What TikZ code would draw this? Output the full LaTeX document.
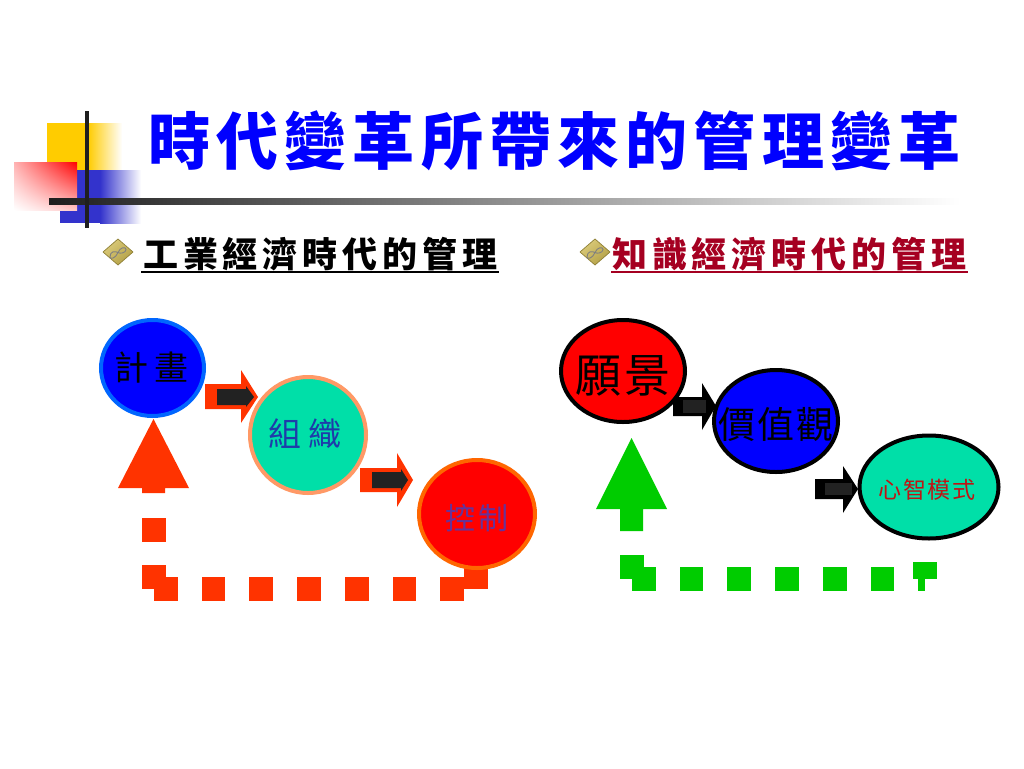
\documentclass[tikz,border=0pt]{standalone}
\usepackage{fontspec}
\usetikzlibrary{shapes.geometric,shadings}
\newfontfamily\cjk{Noto Sans CJK TC}
\definecolor{org}{HTML}{FF3300}
\definecolor{grn}{HTML}{00CC00}
\definecolor{teal}{HTML}{00DFA8}
\definecolor{dark}{HTML}{222222}
\definecolor{crim}{HTML}{A50021}
\definecolor{logoy}{HTML}{FFCC00}
\definecolor{logob}{HTML}{3333CC}
\definecolor{gemA}{HTML}{E2D48A}
\definecolor{gemB}{HTML}{C9B65C}
\definecolor{gemC}{HTML}{A8963F}
\definecolor{gemE}{HTML}{8F8036}
\newcommand{\spaced}[2]{\addfontfeature{LetterSpace=#1}#2}
\newcommand{\bubtext}[4]{\makebox[0pt][c]{\raisebox{#4}[0pt][0pt]{\fontsize{#1}{#1}\selectfont\spaced{#2}{#3}}}}
\tikzset{
  x=1pt,y=-1pt,
  txt/.style={inner sep=0pt,font=\cjk},
  bub/.style={ellipse,draw,line width=4pt,inner sep=0pt,font=\cjk},
  osq/.style={fill=org},
  gsq/.style={fill=grn},
}
\begin{document}
\begin{tikzpicture}
\useasboundingbox (0,0) rectangle (1024,768);
\fill[white] (0,0) rectangle (1024,768);
% logo
\fill[logoy] (47,123) rectangle (88,170);
\shade[left color=logoy,right color=white] (88,123) rectangle (122,170);
\fill[logob] (60,170) rectangle (100,223);
\shade[left color=logob,right color=white] (100,170) rectangle (141,223);
\shade[upper right=red,upper left=red!30,lower left=white,lower right=red!22] (14,162) rectangle (77,210);
\shade[left color=black!88,right color=white] (49,198.5) rectangle (960,204);
\draw[black!88,line width=4pt] (87,111) -- (87,228);
% title
\node[txt,anchor=west,text=blue] (title) at (148,141) {\fontsize{62}{62}\selectfont\bfseries\spaced{10}{時代變革所帶來的管理變革}};
% bullets
\foreach \n/\cx in {ba/118,bb/595}{
  \coordinate (\n) at (\cx,252);
  \shade[upper left=gemA,upper right=gemB,lower left=gemB,lower right=gemC,draw=gemE,line width=.7pt,line join=round] (\cx-15,252) -- (\cx,239) -- (\cx+15,252) -- (\cx,265) -- cycle;
  \draw[black!50,line width=.9pt] (\cx-8,257) .. controls (\cx-8,251) and (\cx-3,251) .. (\cx,252.5) .. controls (\cx+2,254) and (\cx+8,253) .. (\cx+8,249.5) .. controls (\cx+8,246.5) and (\cx+2,247) .. (\cx,252.5) .. controls (\cx-2,258) and (\cx-8,260) .. (\cx-8,257);
}
% headings
\node[txt,anchor=west] (h1) at (143,254) {\fontsize{35}{35}\selectfont\bfseries\spaced{14}{工業經濟時代的管理}};
\draw[black,line width=2pt] (141,272) -- (499,272);
\node[txt,anchor=west,text=crim] (h2) at (612,254) {\fontsize{35}{35}\selectfont\bfseries\spaced{14}{知識經濟時代的管理}};
\draw[crim,line width=2pt] (611,272) -- (968,272);
% left loop
\fill[osq] (153.5,419) -- (189,488) -- (165,488) -- (165,493) -- (142,493) -- (142,488) -- (118,488) -- cycle;
\foreach \a/\b in {142/518,142/565}{\fill[osq] (\a,\b) rectangle (\a+23.5,\b+23.5);}
\foreach \a in {154,201.5,249,297,345,392.5,440}{\fill[osq] (\a,577) rectangle (\a+23.5,601);}
\fill[osq] (464,565) rectangle (488,589);
% right loop
\fill[gsq] (631.5,438) -- (667,509) -- (643,509) -- (643,531) -- (620,531) -- (620,509) -- (596,509) -- cycle;
\fill[gsq] (620,555) rectangle (643.5,579);
\foreach \a in {632,679.5,727,775,823,870.5}{\fill[gsq] (\a,567) rectangle (\a+23.5,591);}
\fill[gsq] (913,562) rectangle (937,579);
\fill[gsq] (918,579) rectangle (925,591);
% block arrows, left
\fill[org] (205,384) -- (241,384) -- (241,370) -- (258,397) -- (241,423) -- (241,409) -- (205,409) -- cycle;
\fill[dark] (217,389) -- (246,389) -- (246,386) -- (254,397) -- (246,407) -- (246,405) -- (217,405) -- cycle;
\fill[org] (360,468) -- (397,468) -- (397,453) -- (413,480) -- (397,507) -- (397,492) -- (360,492) -- cycle;
\fill[dark] (372,472) -- (401,472) -- (401,469) -- (408,480) -- (401,491) -- (401,488) -- (372,488) -- cycle;
% block arrows, right
\fill[black] (673,397) -- (702,397) -- (702,383) -- (716,406) -- (702,430) -- (702,416) -- (673,416) -- cycle;
\fill[dark] (683,400) rectangle (706,413);
\fill[black] (815,479) -- (843,479) -- (843,466) -- (858,489) -- (843,513) -- (843,499) -- (815,499) -- cycle;
\fill[dark] (825,483) rectangle (852,495);
% bubbles
\node[bub,fill=blue,draw={rgb,255:red,0;green,102;blue,255},minimum width=103pt,minimum height=96pt] (plan) at (152.5,368) {\hspace{-2pt}\bubtext{34}{20}{計畫}{-12pt}};
\node[bub,fill=teal,draw={rgb,255:red,255;green,153;blue,102},minimum width=116pt,minimum height=116pt,text={rgb,255:red,30;green,60;blue,170}] (org1) at (308,435) {\hspace{-6pt}\bubtext{33}{20}{組織}{-11pt}};
\node[bub,fill=red,draw={rgb,255:red,255;green,102;blue,0},minimum width=116pt,minimum height=108pt,text={rgb,255:red,102;green,51;blue,153}] (ctrl) at (477,514) {\bubtext{30}{8}{控制}{-15pt}};
\node[bub,fill=red,minimum width=124pt,minimum height=102pt] (vis) at (623,371) {\bubtext{46}{8}{願景}{-21pt}};
\node[bub,fill=blue,minimum width=124pt,minimum height=102pt] (val) at (776,421) {\bubtext{37}{6}{價值觀}{-17pt}};
\node[bub,fill=teal,minimum width=139pt,minimum height=103pt,text={rgb,255:red,192;green,20;blue,20}] (mind) at (929,487) {\hspace{-4pt}\bubtext{23}{8}{心智模式}{-11pt}};
\end{tikzpicture}
\end{document}
